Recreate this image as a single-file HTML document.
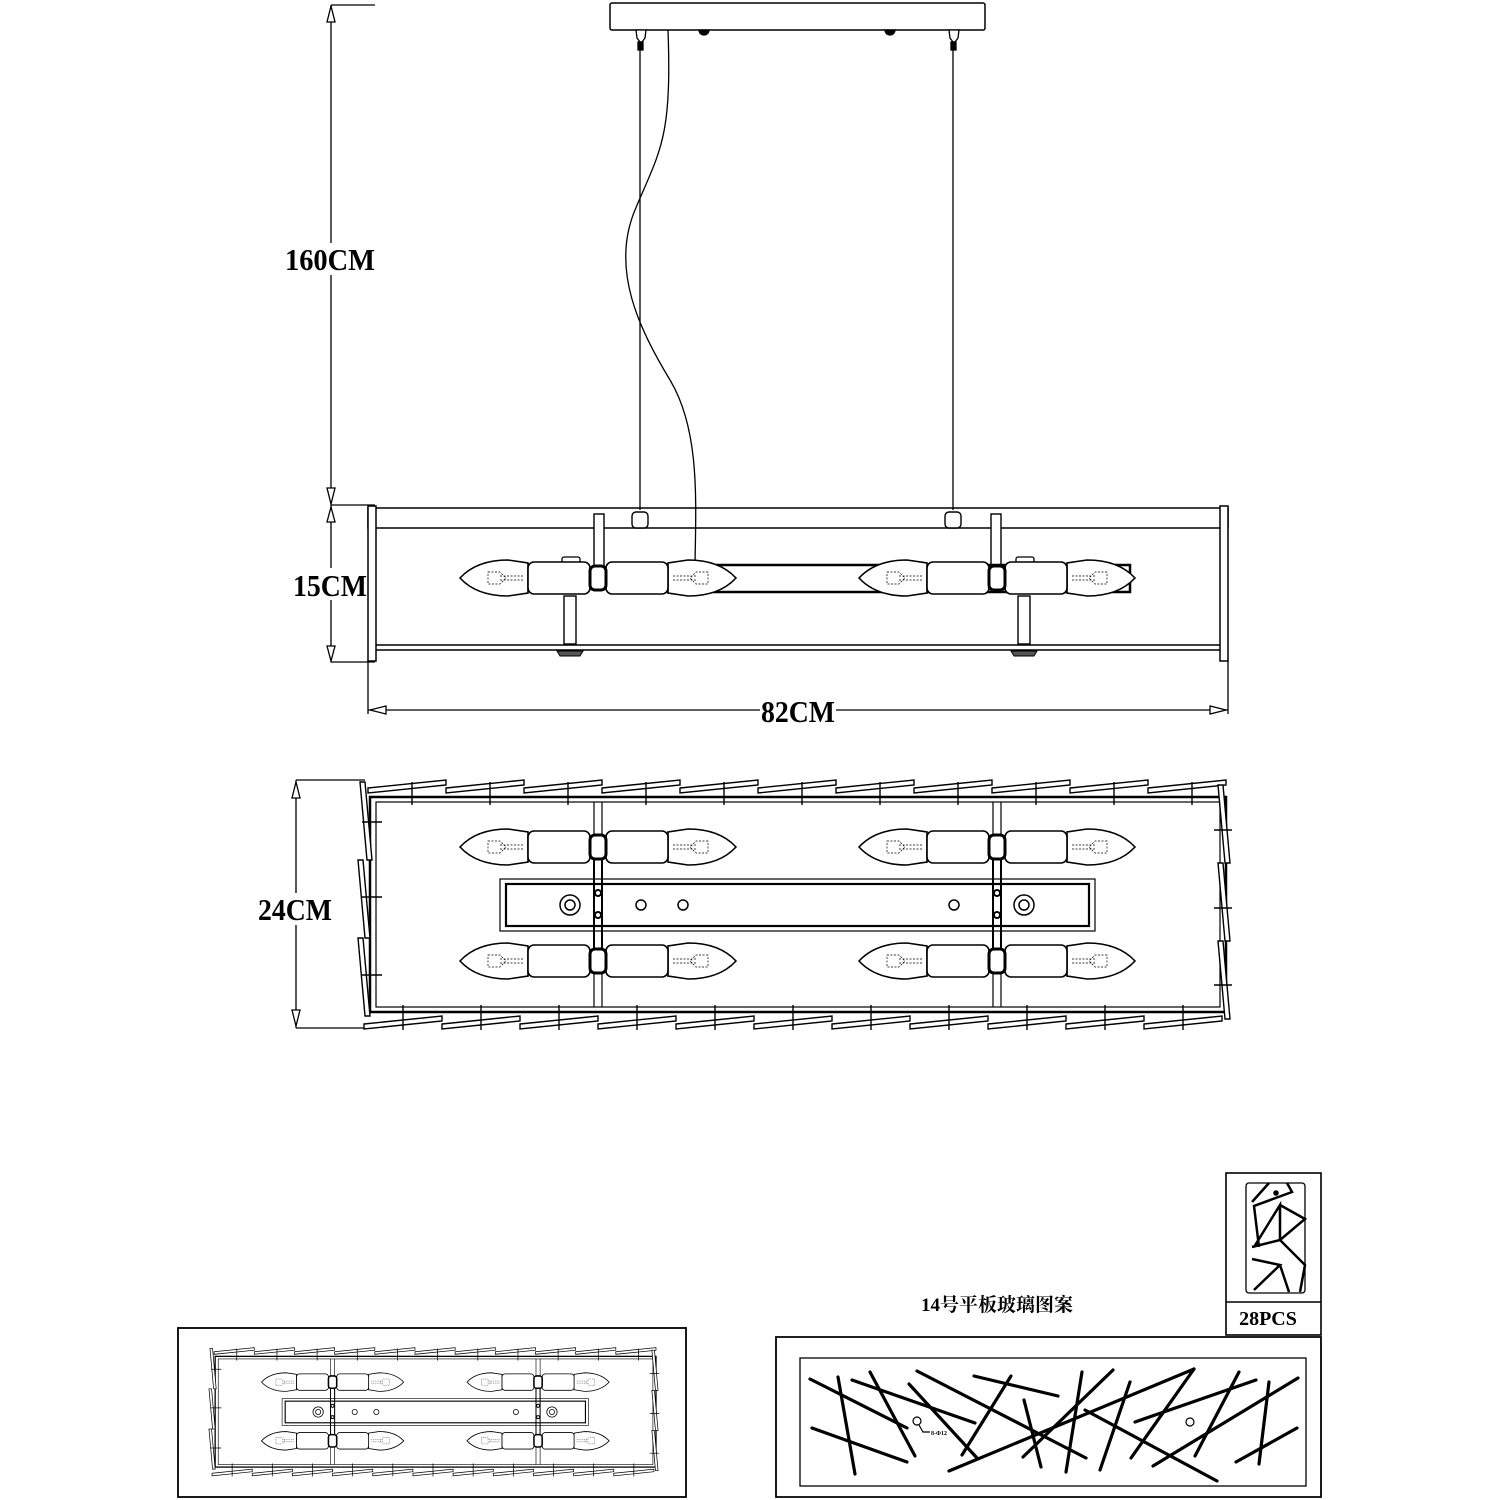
<!DOCTYPE html>
<html><head><meta charset="utf-8"><style>
html,body{margin:0;padding:0;background:#fff}
svg{display:block}
text{font-family:"Liberation Serif","Noto Serif CJK SC",serif;font-weight:bold;fill:#000}
</style></head><body>
<svg width="1500" height="1500" viewBox="0 0 1500 1500" xmlns="http://www.w3.org/2000/svg">
<defs>
  <g id="bulbL" fill="#fff" stroke="#000" stroke-width="1.6">
    <path d="M0,0 C12,-13 28,-18 48,-18 L68,-15 L68,15 L48,18 C28,18 12,13 0,0Z"/>
    <path d="M28,-6 L40,-6 L46,0 L40,6 L28,6Z M40,-2 L64,-2 M40,2 L64,2" stroke-width="0.7" stroke-dasharray="2 1.5"/>
    <rect x="68" y="-16" width="62" height="32" rx="6"/>
  </g>
  <g id="pair">
    <use href="#bulbL" x="-138"/>
    <use href="#bulbL" transform="scale(-1,1)" x="-138"/>
    <rect x="-8" y="-12" width="16" height="24" rx="5" fill="#fff" stroke="#000" stroke-width="3"/>
  </g>
  <polygon id="tileT" points="0,9 78,1 78,6 0,14" fill="#fff" stroke="#000" stroke-width="1.4"/>
  <polygon id="tileS" points="0,0 5,0 12,78 7,78" fill="#fff" stroke="#000" stroke-width="1.4"/>
  <g id="topview">
    <rect x="370" y="797" width="856" height="215" fill="none" stroke="#000" stroke-width="2.5"/>
    <rect x="376" y="802" width="844" height="205" fill="none" stroke="#000" stroke-width="1.2"/>
    <line x1="594" y1="802" x2="594" y2="1007" stroke="#000" stroke-width="1.2"/>
    <line x1="602" y1="802" x2="602" y2="1007" stroke="#000" stroke-width="1.2"/>
    <line x1="993" y1="802" x2="993" y2="1007" stroke="#000" stroke-width="1.2"/>
    <line x1="1001" y1="802" x2="1001" y2="1007" stroke="#000" stroke-width="1.2"/>
    <g>
      <use href="#tileT" x="368" y="779"/><use href="#tileT" x="446" y="779"/><use href="#tileT" x="524" y="779"/>
      <use href="#tileT" x="602" y="779"/><use href="#tileT" x="680" y="779"/><use href="#tileT" x="758" y="779"/>
      <use href="#tileT" x="836" y="779"/><use href="#tileT" x="914" y="779"/><use href="#tileT" x="992" y="779"/>
      <use href="#tileT" x="1070" y="779"/><use href="#tileT" x="1148" y="779"/>
      <use href="#tileT" x="364" y="1015"/><use href="#tileT" x="442" y="1015"/><use href="#tileT" x="520" y="1015"/>
      <use href="#tileT" x="598" y="1015"/><use href="#tileT" x="676" y="1015"/><use href="#tileT" x="754" y="1015"/>
      <use href="#tileT" x="832" y="1015"/><use href="#tileT" x="910" y="1015"/><use href="#tileT" x="988" y="1015"/>
      <use href="#tileT" x="1066" y="1015"/><use href="#tileT" x="1144" y="1015"/>
      <use href="#tileS" x="360" y="782"/><use href="#tileS" x="358" y="860"/><use href="#tileS" x="358" y="938"/>
      <use href="#tileS" x="1218" y="785"/><use href="#tileS" x="1218" y="863"/><use href="#tileS" x="1218" y="941"/>
    </g>
    <path d="M412,782V805 M490,782V805 M568,782V805 M646,782V805 M724,782V805 M802,782V805 M880,782V805 M958,782V805 M1036,782V805 M1114,782V805 M1192,782V805
             M403,1005V1030 M481,1005V1030 M559,1005V1030 M637,1005V1030 M715,1005V1030 M793,1005V1030 M871,1005V1030 M949,1005V1030 M1027,1005V1030 M1105,1005V1030 M1183,1005V1030
             M362,822H382 M362,897H382 M362,975H382 M1214,830H1232 M1214,908H1232 M1214,985H1232" stroke="#000" stroke-width="1.4"/>
    <use href="#pair" x="598" y="847"/><use href="#pair" x="997" y="847"/>
    <use href="#pair" x="598" y="961"/><use href="#pair" x="997" y="961"/>
    <rect x="500" y="879" width="595" height="52" fill="#fff" stroke="#000" stroke-width="1.2"/>
    <rect x="506" y="884" width="583" height="42" fill="none" stroke="#000" stroke-width="2.2"/>
    <rect x="594" y="859" width="8" height="90" fill="none" stroke="#000" stroke-width="2"/>
    <rect x="993" y="859" width="8" height="90" fill="none" stroke="#000" stroke-width="2"/>
    <circle cx="598" cy="893" r="3" fill="#fff" stroke="#000" stroke-width="2"/>
    <circle cx="598" cy="915" r="3" fill="#fff" stroke="#000" stroke-width="2"/>
    <circle cx="997" cy="893" r="3" fill="#fff" stroke="#000" stroke-width="2"/>
    <circle cx="997" cy="915" r="3" fill="#fff" stroke="#000" stroke-width="2"/>
    <g fill="none" stroke="#000" stroke-width="1.5">
      <circle cx="570" cy="905" r="10"/><circle cx="570" cy="905" r="5"/>
      <circle cx="1024" cy="905" r="10"/><circle cx="1024" cy="905" r="5"/>
      <circle cx="641" cy="905" r="5"/><circle cx="683" cy="905" r="5"/><circle cx="954" cy="905" r="5"/>
    </g>
  </g>
</defs>

<!-- dimension lines -->
<g stroke="#000" stroke-width="1.3" fill="#fff">
  <line x1="331" y1="5" x2="331" y2="505"/>
  <line x1="331" y1="5" x2="375" y2="5"/>
  <path d="M331,6 L327,22 L335,22Z"/>
  <path d="M331,504 L327,488 L335,488Z"/>
  <line x1="331" y1="505" x2="375" y2="505"/>
  <line x1="331" y1="505" x2="331" y2="662"/>
  <path d="M331,507 L327,522 L335,522Z"/>
  <path d="M331,661 L327,646 L335,646Z"/>
  <line x1="331" y1="662" x2="375" y2="662"/>
  <line x1="368" y1="660" x2="368" y2="714"/>
  <line x1="1228" y1="660" x2="1228" y2="714"/>
  <line x1="368" y1="710" x2="1228" y2="710"/>
  <path d="M370,710 L386,706 L386,714Z"/>
  <path d="M1226,710 L1210,706 L1210,714Z"/>
  <line x1="296" y1="780" x2="296" y2="1028"/>
  <line x1="296" y1="780" x2="365" y2="780"/>
  <line x1="296" y1="1028" x2="365" y2="1028"/>
  <path d="M296,782 L292,798 L300,798Z"/>
  <path d="M296,1026 L292,1010 L300,1010Z"/>
</g>
<rect x="284" y="243" width="92" height="32" fill="#fff"/>
<text x="330" y="270" font-size="31" text-anchor="middle" textLength="90" lengthAdjust="spacingAndGlyphs">160CM</text>
<rect x="292" y="568" width="76" height="32" fill="#fff"/>
<text x="330" y="596" font-size="31" text-anchor="middle" textLength="74" lengthAdjust="spacingAndGlyphs">15CM</text>
<rect x="760" y="694" width="76" height="32" fill="#fff"/>
<text x="798" y="722" font-size="31" text-anchor="middle" textLength="74" lengthAdjust="spacingAndGlyphs">82CM</text>
<rect x="257" y="893" width="76" height="32" fill="#fff"/>
<text x="295" y="920" font-size="31" text-anchor="middle" textLength="74" lengthAdjust="spacingAndGlyphs">24CM</text>

<!-- ceiling plate and cables -->
<rect x="610" y="3" width="375" height="27" rx="2" fill="#fff" stroke="#000" stroke-width="1.5"/>
<g stroke="#000" stroke-width="1.3" fill="#fff">
  <path d="M636,30 L646,30 L645,38 L642,42 L640,42 L637,38Z"/>
  <rect x="638" y="42" width="5" height="8" fill="#000"/>
  <path d="M949,30 L959,30 L958,38 L955,42 L953,42 L950,38Z"/>
  <rect x="951" y="42" width="5" height="8" fill="#000"/>
  <path d="M699,30 A4,4 0 0 0 709,30Z" fill="#000"/>
  <path d="M885,30 A4,4 0 0 0 895,30Z" fill="#000"/>
  <line x1="640" y1="50" x2="640" y2="510"/>
  <line x1="953" y1="50" x2="953" y2="510"/>
  <path d="M668,30 C672,140 660,150 635,210 C610,270 640,330 670,380 C700,430 696,500 695,565" fill="none"/>
</g>

<!-- side view -->
<g stroke="#000" fill="#fff">
  <rect x="368" y="508" width="860" height="20" stroke-width="1.5" fill="none"/>
  <line x1="376" y1="645" x2="1220" y2="645" stroke-width="1.5"/>
  <line x1="376" y1="650" x2="1220" y2="650" stroke-width="1.5"/>
  <rect x="368" y="506" width="8" height="155" stroke-width="1.5"/>
  <rect x="1220" y="506" width="8" height="155" stroke-width="1.5"/>
  <rect x="632" y="512" width="16" height="16" rx="4" stroke-width="1.4"/>
  <rect x="945" y="512" width="16" height="16" rx="4" stroke-width="1.4"/>
  <rect x="594" y="514" width="10" height="52" stroke-width="1.4"/>
  <rect x="991" y="514" width="10" height="52" stroke-width="1.4"/>
  <rect x="564" y="596" width="12" height="48" stroke-width="1.4"/>
  <rect x="1018" y="596" width="12" height="48" stroke-width="1.4"/>
  <path d="M557,651 h26 l-3,5 h-20Z" fill="#555" stroke-width="1"/>
  <path d="M1011,651 h26 l-3,5 h-20Z" fill="#555" stroke-width="1"/>
  <rect x="668" y="565" width="462" height="27" stroke-width="2.5" fill="none"/>
  <rect x="562" y="557" width="18" height="8" rx="2" stroke-width="1.3"/>
  <rect x="1016" y="557" width="18" height="8" rx="2" stroke-width="1.3"/>
</g>
<use href="#pair" x="598" y="578"/><use href="#pair" x="997" y="578"/>

<!-- top view -->
<use href="#topview"/>

<!-- bottom left small box -->
<rect x="178" y="1328" width="508" height="169" fill="none" stroke="#000" stroke-width="1.8"/>
<use href="#topview" transform="translate(24.6,945.9) scale(0.515)"/>

<!-- glass pattern -->
<rect x="1226" y="1173" width="95" height="162" fill="#fff" stroke="#000" stroke-width="1.6"/>
<line x1="1226" y1="1302" x2="1321" y2="1302" stroke="#000" stroke-width="1.6"/>
<rect x="1246" y="1183" width="59" height="110" rx="3" fill="none" stroke="#000" stroke-width="1.3"/>
<g stroke="#000" stroke-width="2.5" fill="none">
  <path d="M1252,1202 L1269,1183 M1287,1183 L1292,1192 L1254,1206 L1259,1247 M1254,1247 L1280,1205 L1280,1240 M1280,1205 L1305,1219 L1280,1240 L1305,1265 L1300,1292 M1280,1240 L1252,1247 M1252,1259 L1280,1265 L1254,1290 M1280,1265 L1289,1292"/>
  <circle cx="1276" cy="1193" r="1.5" fill="#000"/>
</g>
<text x="1268" y="1325" font-size="20" text-anchor="middle">28PCS</text>
<text x="997" y="1311" font-size="19" text-anchor="middle">14号平板玻璃图案</text>

<path d="M776,1337 H1321 V1497 H776 Z" fill="none" stroke="#000" stroke-width="1.8"/>
<rect x="800" y="1358" width="506" height="128" fill="none" stroke="#000" stroke-width="1.3"/>
<g stroke="#000" stroke-width="3.2" stroke-linecap="round" fill="none">
  <line x1="810" y1="1379" x2="907" y2="1428"/>
  <line x1="838" y1="1377" x2="855" y2="1474"/>
  <line x1="812" y1="1428" x2="907" y2="1462"/>
  <line x1="852" y1="1380" x2="975" y2="1423"/>
  <line x1="870" y1="1372" x2="915" y2="1456"/>
  <line x1="909" y1="1384" x2="977" y2="1458"/>
  <line x1="917" y1="1371" x2="1086" y2="1458"/>
  <line x1="974" y1="1376" x2="1058" y2="1396"/>
  <line x1="1011" y1="1376" x2="962" y2="1455"/>
  <line x1="949" y1="1471" x2="1194" y2="1369"/>
  <line x1="1113" y1="1370" x2="1023" y2="1457"/>
  <line x1="1082" y1="1372" x2="1066" y2="1472"/>
  <line x1="1024" y1="1400" x2="1041" y2="1467"/>
  <line x1="1130" y1="1382" x2="1100" y2="1470"/>
  <line x1="1085" y1="1410" x2="1217" y2="1481"/>
  <line x1="1135" y1="1422" x2="1256" y2="1380"/>
  <line x1="1239" y1="1372" x2="1195" y2="1456"/>
  <line x1="1153" y1="1466" x2="1298" y2="1378"/>
  <line x1="1269" y1="1382" x2="1259" y2="1464"/>
  <line x1="1236" y1="1462" x2="1297" y2="1428"/>
  <line x1="1194" y1="1369" x2="1131" y2="1458"/>
</g>
<g stroke="#000" stroke-width="1.2" fill="none">
  <circle cx="917" cy="1421" r="4"/>
  <path d="M919,1425 L923,1432 L930,1432"/>
  <circle cx="1190" cy="1422" r="4"/>
</g>
<text x="931" y="1435" font-size="6">8-Φ12</text>
</svg>
</body></html>
